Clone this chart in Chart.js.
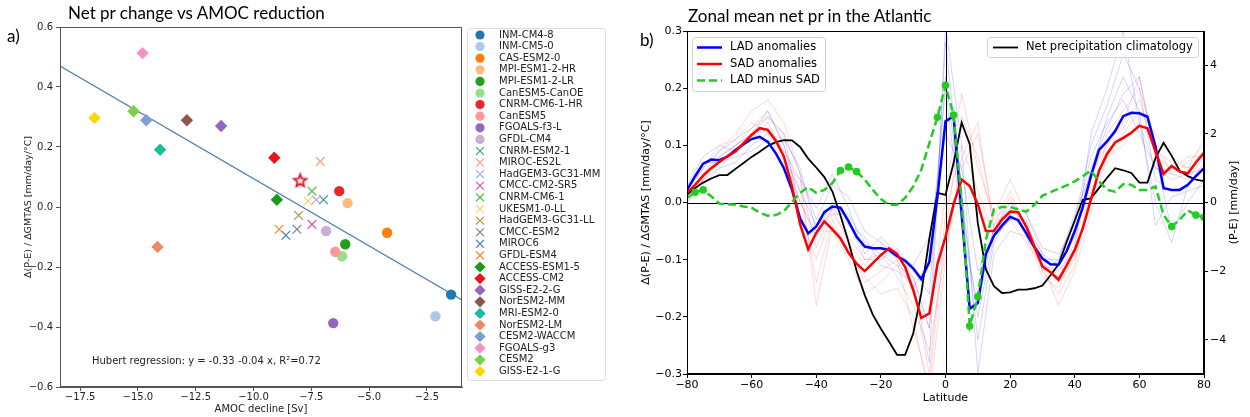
<!DOCTYPE html>
<html>
<head>
<meta charset="utf-8">
<script src="https://cdn.jsdelivr.net/npm/chart.js@4.4.1/dist/chart.umd.min.js"></script>
<style>
body { margin: 0; background: #fff; width: 1250px; height: 417px; position: relative; overflow: hidden; }
canvas { position: absolute; top: 0; }
#chartA { left: 0; }
#chartB { left: 620px; }
.lbl { position: absolute; font-family: Lato, "Open Sans", sans-serif; color: #000; white-space: nowrap; font-size: 17px; }
</style>
</head>
<body>
<canvas id="chartA" width="620" height="417"></canvas>
<canvas id="chartB" width="630" height="417"></canvas>
<div class="lbl" style="left:68px;top:2px">Net pr change vs AMOC reduction</div>
<div class="lbl" style="left:7px;top:25px">a)</div>
<div class="lbl" style="left:688px;top:5px">Zonal mean net pr in the Atlantic</div>
<div class="lbl" style="left:640px;top:29px">b)</div>
<script>
// ---------- panel a: models vs AMOC decline
const modelNames = ["INM-CM4-8", "INM-CM5-0", "CAS-ESM2-0", "MPI-ESM1-2-HR", "MPI-ESM1-2-LR",
  "CanESM5-CanOE", "CNRM-CM6-1-HR", "CanESM5", "FGOALS-f3-L", "GFDL-CM4",
  "CNRM-ESM2-1", "MIROC-ES2L", "HadGEM3-GC31-MM", "CMCC-CM2-SR5", "CNRM-CM6-1",
  "UKESM1-0-LL", "HadGEM3-GC31-LL", "CMCC-ESM2", "MIROC6", "GFDL-ESM4",
  "ACCESS-ESM1-5", "ACCESS-CM2", "GISS-E2-2-G", "NorESM2-MM", "MRI-ESM2-0",
  "NorESM2-LM", "CESM2-WACCM", "FGOALS-g3", "CESM2", "GISS-E2-1-G"];
const amocDecline = [-1.45, -2.13, -4.22, -5.93, -6.03, -6.17, -6.29, -6.46, -6.55, -6.86,
  -6.97, -7.11, -7.28, -7.47, -7.47, -7.64, -8.05, -8.12, -8.60, -8.89,
  -8.99, -9.10, -11.40, -12.88, -14.04, -14.15, -14.64, -14.80, -15.19, -16.88];
const netPrChange = [-0.292, -0.364, -0.086, 0.013, -0.124, -0.164, 0.053, -0.149, -0.387, -0.080,
  0.024, 0.152, 0.024, -0.058, 0.053, 0.020, -0.028, -0.074, -0.094, -0.074,
  0.024, 0.164, 0.270, 0.289, 0.191, -0.133, 0.289, 0.513, 0.319, 0.297];
const meanX = [-7.98];
const meanY = [0.087];
const regX = [-18.37, -0.98];
const regY = [0.47, -0.31];
const amocTicks = [-17.5, -15, -12.5, -10, -7.5, -5, -2.5];
const prTicksA = [-0.6, -0.4, -0.2, 0, 0.2, 0.4, 0.6];

// styles for panel a
const markerKind = [
  "circle", "circle", "circle", "circle", "circle", "circle", "circle", "circle", "circle", "circle",
  "crossRot", "crossRot", "crossRot", "crossRot", "crossRot", "crossRot", "crossRot", "crossRot", "crossRot", "crossRot",
  "rectRot", "rectRot", "rectRot", "rectRot", "rectRot", "rectRot", "rectRot", "rectRot", "rectRot", "rectRot"];
const modelColors = ["#1f77b4", "#aec7e8", "#ff7f0e", "#ffbb78", "#1f9e1f", "#98df8a", "#e8262b", "#ff9896", "#9467bd", "#c5b0d5",
  "#3a9a9a", "#f4a582", "#a6a6e8", "#e4579b", "#5cb85c", "#f2d45c", "#b8a060", "#7f7f7f", "#3b7dc4", "#f28e2b",
  "#1a9a1a", "#e8141e", "#9467bd", "#8c564b", "#1abc9c", "#f08860", "#7f9fd4", "#f490c6", "#7ccf4a", "#ffd700"];

// ---------- panel b: zonal means
const lat = [-80, -77.5, -75, -72.5, -70, -67.5, -65, -62.5, -60, -57.5, -55, -52.5, -50, -47.5, -45, -42.5,
  -40, -37.5, -35, -32.5, -30, -27.5, -25, -22.5, -20, -17.5, -15, -12.5, -10, -7.5, -5, -2.5,
  0, 2.5, 5, 7.5, 10, 12.5, 15, 17.5, 20, 22.5, 25, 27.5, 30, 32.5, 35, 37.5,
  40, 42.5, 45, 47.5, 50, 52.5, 55, 57.5, 60, 62.5, 65, 67.5, 70, 72.5, 75, 77.5, 80];
const ladMean = [0.022, 0.046, 0.068, 0.075, 0.074, 0.080, 0.092, 0.102, 0.111, 0.115, 0.106, 0.086, 0.060, 0.022, -0.028, -0.054,
  -0.042, -0.017, -0.007, -0.009, -0.033, -0.060, -0.077, -0.080, -0.080, -0.083, -0.094, -0.102, -0.115, -0.134, -0.104, 0.010,
  0.142, 0.151, -0.020, -0.186, -0.176, -0.090, -0.058, -0.040, -0.025, -0.031, -0.054, -0.078, -0.098, -0.108, -0.109, -0.085,
  -0.050, -0.008, 0.046, 0.092, 0.107, 0.125, 0.151, 0.157, 0.156, 0.150, 0.098, 0.025, 0.022, 0.022, 0.031, 0.046, 0.060];
const sadMean = [0.017, 0.031, 0.047, 0.060, 0.071, 0.081, 0.089, 0.104, 0.118, 0.130, 0.127, 0.108, 0.080, 0.028, -0.038, -0.082,
  -0.053, -0.033, -0.047, -0.063, -0.088, -0.107, -0.120, -0.106, -0.092, -0.080, -0.090, -0.113, -0.153, -0.202, -0.194, -0.108,
  -0.060, -0.003, 0.040, 0.029, -0.003, -0.050, -0.050, -0.030, -0.016, -0.017, -0.042, -0.077, -0.112, -0.122, -0.135, -0.110,
  -0.083, -0.045, 0.005, 0.055, 0.085, 0.105, 0.113, 0.122, 0.134, 0.130, 0.089, 0.050, 0.064, 0.054, 0.051, 0.070, 0.087];
const ladMinusSad = [0.008, 0.018, 0.022, 0.011, -0.002, -0.003, -0.004, -0.007, -0.009, -0.018, -0.023, -0.022, -0.015, 0.001, 0.017, 0.027,
  0.017, 0.022, 0.034, 0.056, 0.062, 0.054, 0.040, 0.022, 0.006, -0.004, -0.004, 0.008, 0.028, 0.057, 0.104, 0.149,
  0.205, 0.153, 0.005, -0.216, -0.165, -0.065, -0.012, -0.008, -0.008, -0.012, -0.016, -0.004, 0.012, 0.018, 0.024, 0.030,
  0.037, 0.046, 0.056, 0.037, 0.022, 0.019, 0.032, 0.031, 0.022, 0.022, 0.028, -0.022, -0.042, -0.030, -0.014, -0.022, -0.026];
const prClim = [0.23, 0.42, 0.58, 0.70, 0.80, 0.80, 0.98, 1.15, 1.33, 1.48, 1.65, 1.76, 1.82, 1.81, 1.62, 1.28,
  1.02, 0.74, 0.32, -0.38, -1.15, -2.00, -2.70, -3.27, -3.68, -4.05, -4.44, -4.44, -3.82, -2.65, -1.05, 0.28,
  0.22, 1.15, 2.33, 1.70, -0.60, -1.95, -2.44, -2.64, -2.62, -2.54, -2.54, -2.50, -2.42, -2.12, -1.80, -1.15,
  -0.52, 0.08, 0.12, 0.42, 0.72, 1.00, 0.94, 0.86, 0.58, 0.58, 1.30, 1.74, 1.36, 0.92, 0.77, 0.67, 0.62];
const sigLat = [-77.5, -75, -32.5, -30, -27.5, -2.5, 0, 2.5, 7.5, 10, 70, 77.5, 80];

// individual models (coarser grid)
const latModels = [-80, -75, -70, -65, -60, -55, -50, -45, -40, -35, -30, -25, -20, -15, -10, -5,
  0, 5, 10, 15, 20, 25, 30, 35, 40, 45, 50, 55, 60, 65, 70, 75, 80];
const ladModel1 = [0.03, 0.08, 0.10, 0.09, 0.11, 0.13, 0.08, 0.02, -0.04, -0.02, -0.02, -0.07, -0.09, -0.11, -0.13, -0.22,
  0.28, 0.02, -0.24, -0.07, -0.02, -0.05, -0.10, -0.10, -0.03, 0.10, 0.17, 0.26, 0.20, 0.04, 0.02, 0.03, 0.06];
const ladModel2 = [0.01, 0.05, 0.08, 0.10, 0.12, 0.15, 0.12, 0.05, -0.03, 0.03, 0.01, -0.05, -0.07, -0.10, -0.15, -0.10,
  0.20, -0.04, -0.18, -0.04, -0.01, -0.04, -0.09, -0.11, -0.06, 0.06, 0.13, 0.19, 0.22, 0.08, -0.05, 0.00, 0.04];
const ladModel3 = [0.02, 0.06, 0.09, 0.11, 0.13, 0.16, 0.10, 0.00, -0.06, -0.01, -0.04, -0.06, -0.11, -0.12, -0.14, -0.28,
  0.31, 0.10, -0.30, -0.09, -0.05, -0.06, -0.11, -0.12, -0.08, 0.12, 0.20, 0.30, 0.14, 0.00, -0.07, 0.03, 0.07];
const ladModel4 = [0.02, 0.07, 0.07, 0.08, 0.09, 0.11, 0.09, 0.04, -0.01, 0.05, -0.01, -0.09, -0.06, -0.09, -0.11, -0.06,
  0.12, 0.06, -0.12, -0.05, 0.00, -0.02, -0.08, -0.09, -0.04, 0.08, 0.14, 0.18, 0.12, 0.06, 0.05, 0.04, 0.08];
const ladModel5 = [0.00, 0.04, 0.06, 0.07, 0.10, 0.12, 0.11, 0.06, -0.05, 0.00, -0.03, -0.10, -0.10, -0.08, -0.12, -0.16,
  0.22, 0.00, -0.20, -0.06, -0.03, -0.03, -0.12, -0.10, -0.02, 0.05, 0.15, 0.22, 0.16, -0.04, 0.01, 0.02, 0.03];
const sadModel1 = [0.01, 0.05, 0.09, 0.12, 0.16, 0.18, 0.14, 0.05, -0.18, -0.04, -0.08, -0.14, -0.12, -0.10, -0.22, -0.32,
  -0.05, 0.15, 0.08, -0.04, 0.02, -0.05, -0.12, -0.16, -0.11, 0.04, 0.12, 0.16, 0.20, 0.10, 0.05, 0.07, 0.10];
const sadModel2 = [0.02, 0.04, 0.07, 0.10, 0.13, 0.15, 0.12, -0.02, -0.10, -0.02, -0.06, -0.10, -0.09, -0.13, -0.18, -0.26,
  -0.08, 0.06, 0.12, -0.03, 0.00, -0.04, -0.10, -0.14, -0.10, 0.02, 0.09, 0.12, 0.16, 0.12, 0.08, 0.06, 0.09];
const sadModel3 = [0.00, 0.03, 0.06, 0.09, 0.11, 0.14, 0.08, 0.00, -0.05, -0.05, -0.10, -0.16, -0.14, -0.11, -0.15, -0.30,
  -0.02, 0.10, 0.02, -0.06, -0.03, -0.07, -0.11, -0.18, -0.12, -0.02, 0.08, 0.10, 0.14, 0.06, 0.04, 0.05, 0.06];
const sadModel4 = [0.02, 0.06, 0.10, 0.11, 0.14, 0.12, 0.07, 0.04, -0.08, -0.01, -0.07, -0.11, -0.07, -0.09, -0.13, -0.22,
  0.02, 0.19, 0.06, -0.02, 0.04, -0.02, -0.09, -0.13, -0.07, 0.05, 0.10, 0.14, 0.22, 0.08, 0.06, 0.08, 0.08];
const sadModel5 = [0.01, 0.04, 0.08, 0.10, 0.12, 0.16, 0.10, 0.02, -0.14, -0.03, -0.09, -0.13, -0.16, -0.15, -0.20, -0.34,
  -0.10, 0.08, 0.14, -0.05, 0.01, -0.06, -0.13, -0.15, -0.09, 0.00, 0.11, 0.13, 0.18, 0.09, 0.07, 0.06, 0.11];
const latTicks = [-80, -60, -40, -20, 0, 20, 40, 60, 80];
const prTicksB = [-0.3, -0.2, -0.1, 0, 0.1, 0.2, 0.3];
const climTicks = [-4, -2, 0, 2, 4];

Chart.defaults.font.family = '"DejaVu Sans", sans-serif';
Chart.defaults.animation = false;
Chart.defaults.events = [];
Chart.defaults.plugins.legend.display = false;
Chart.defaults.plugins.tooltip.enabled = false;

const minus = s => String(s).replace("-", "\u2212");
const pts = (xs, ys) => xs.map((x, i) => ({ x: x, y: ys[i] }));
const fixedTicks = arr => scale => { scale.ticks = arr.map(v => ({ value: v })); };

function boxPath(ctx, x, y, w, h, r) {
  ctx.beginPath();
  ctx.moveTo(x + r, y);
  ctx.lineTo(x + w - r, y); ctx.arcTo(x + w, y, x + w, y + r, r);
  ctx.lineTo(x + w, y + h - r); ctx.arcTo(x + w, y + h, x + w - r, y + h, r);
  ctx.lineTo(x + r, y + h); ctx.arcTo(x, y + h, x, y + h - r, r);
  ctx.lineTo(x, y + r); ctx.arcTo(x, y, x + r, y, r);
  ctx.closePath();
}

function starImage(r, color) {
  const c = document.createElement("canvas");
  const s = Math.ceil(r * 2 + 4);
  c.width = c.height = s;
  const g = c.getContext("2d");
  g.translate(s / 2, s / 2);
  g.beginPath();
  for (let k = 0; k < 10; k++) {
    const rr = k % 2 ? r * 0.45 : r;
    const a = -Math.PI / 2 + k * Math.PI / 5;
    g.lineTo(rr * Math.cos(a), rr * Math.sin(a));
  }
  g.closePath();
  g.fillStyle = "#fff"; g.fill();
  g.strokeStyle = color; g.lineWidth = 1.8; g.stroke();
  return c;
}

// legend + frame + text for panel a
const panelAExtras = {
  id: "panelAExtras",
  afterDraw(chart) {
    const { ctx, chartArea: a } = chart;
    ctx.save();
    ctx.strokeStyle = "#555"; ctx.lineWidth = 1;
    ctx.strokeRect(a.left + 0.5, a.top + 0.5, a.right - a.left - 1, a.bottom - a.top - 1);

    ctx.fillStyle = "#222";
    ctx.font = '10px "DejaVu Sans"';
    ctx.textBaseline = "middle";
    ctx.fillText("Hubert regression: y = -0.33 -0.04 x, R\u00b2=0.72", a.left + 32, a.bottom - 26);

    ctx.fillStyle = "#fff"; ctx.strokeStyle = "#dcdcdc";
    boxPath(ctx, 467.5, 28.5, 138, 352, 3);
    ctx.fill(); ctx.stroke();
    modelNames.forEach((name, i) => {
      const y = 35 + i * 11.6;
      const kind = markerKind[i];
      ctx.fillStyle = modelColors[i];
      ctx.strokeStyle = modelColors[i];
      ctx.lineWidth = 1.2;
      Chart.helpers.drawPoint(ctx, {
        pointStyle: kind,
        radius: kind === "circle" ? 4.6 : kind === "rectRot" ? 5.6 : 5.5,
        borderWidth: kind === "crossRot" ? 1.2 : 0,
        rotation: 0
      }, 480, y);
      ctx.fillStyle = "#222";
      ctx.fillText(name, 499, y);
    });
    ctx.restore();
  }
};

new Chart(document.getElementById("chartA"), {
  type: "scatter",
  data: {
    datasets: [
      {
        label: "mean",
        data: pts(meanX, meanY),
        pointStyle: starImage(6.5, "#e8141e"),
        pointRadius: 7
      },
      {
        label: "models",
        data: pts(amocDecline, netPrChange),
        pointStyle: markerKind,
        pointRadius: markerKind.map(k => k === "circle" ? 5.2 : k === "rectRot" ? 6.2 : 6.2),
        pointBackgroundColor: modelColors,
        pointBorderColor: modelColors,
        pointBorderWidth: markerKind.map(k => k === "crossRot" ? 1.2 : 0)
      },
      {
        type: "line",
        label: "fit",
        data: pts(regX, regY),
        borderColor: "#4a7fb0",
        borderWidth: 1.3,
        pointRadius: 0
      }
    ]
  },
  options: {
    responsive: false,
    devicePixelRatio: 1,
    layout: { padding: { left: 0, top: 27, right: 158, bottom: 0 } },
    scales: {
      x: {
        type: "linear", min: -18.37, max: -0.98,
        afterBuildTicks: fixedTicks(amocTicks),
        afterFit: s => { s.height = 30; },
        grid: { drawOnChartArea: false, tickLength: 4, color: "#555" },
        border: { color: "#555" },
        ticks: { color: "#222", font: { size: 10 }, padding: 0, maxRotation: 0,
          callback: v => minus(v.toFixed(1)) },
        title: { display: true, text: "AMOC decline [Sv]", color: "#222", font: { size: 10 },
          padding: { top: 0, bottom: 2 } }
      },
      y: {
        type: "linear", min: -0.6, max: 0.6,
        afterBuildTicks: fixedTicks(prTicksA),
        afterFit: s => { s.width = 60; },
        grid: { drawOnChartArea: false, tickLength: 4, color: "#555" },
        border: { color: "#555" },
        ticks: { color: "#222", font: { size: 10 }, padding: 3,
          callback: v => minus(v.toFixed(1)) },
        title: { display: true, text: "\u0394(P-E) / \u0394GMTAS [mm/day/\u00b0C]", color: "#222",
          font: { size: 9.5 }, padding: { top: 23 } }
      }
    }
  },
  plugins: [panelAExtras]
});

// zero lines, frame, legends for panel b
const panelBExtras = {
  id: "panelBExtras",
  beforeDatasetsDraw(chart) {
    const { ctx, chartArea: a, scales } = chart;
    const y0 = Math.round(scales.y.getPixelForValue(0)) + 0.5;
    const x0 = Math.round(scales.x.getPixelForValue(0)) + 0.5;
    ctx.save();
    ctx.strokeStyle = "#000"; ctx.lineWidth = 1;
    ctx.beginPath();
    ctx.moveTo(a.left, y0); ctx.lineTo(a.right, y0);
    ctx.moveTo(x0, a.top); ctx.lineTo(x0, a.bottom);
    ctx.stroke();
    ctx.restore();
  },
  afterDraw(chart) {
    const { ctx, chartArea: a } = chart;
    ctx.save();
    ctx.strokeStyle = "#000"; ctx.lineWidth = 1;
    ctx.strokeRect(a.left + 0.5, a.top + 0.5, a.right - a.left - 1, a.bottom - a.top - 1);

    ctx.font = '11.5px "DejaVu Sans"';
    ctx.textBaseline = "middle";
    // left legend
    ctx.fillStyle = "rgba(255,255,255,0.8)"; ctx.strokeStyle = "#d0d0d0";
    boxPath(ctx, 72.5, 37.5, 133, 54, 3);
    ctx.fill(); ctx.stroke();
    const items = [
      { t: "LAD anomalies", c: "#0000ff", d: [] },
      { t: "SAD anomalies", c: "#ff0000", d: [] },
      { t: "LAD minus SAD", c: "#22cc22", d: [8, 4] }
    ];
    items.forEach((it, i) => {
      const y = 47.5 + i * 16.5;
      ctx.strokeStyle = it.c; ctx.lineWidth = 2.5; ctx.setLineDash(it.d);
      ctx.beginPath(); ctx.moveTo(77, y); ctx.lineTo(102, y); ctx.stroke();
      ctx.setLineDash([]);
      ctx.fillStyle = "#000";
      ctx.fillText(it.t, 110, y);
    });
    // right legend
    ctx.fillStyle = "rgba(255,255,255,0.8)"; ctx.strokeStyle = "#d0d0d0"; ctx.lineWidth = 1;
    boxPath(ctx, 367.5, 37.5, 211, 20, 3);
    ctx.fill(); ctx.stroke();
    ctx.strokeStyle = "#000"; ctx.lineWidth = 1.8;
    ctx.beginPath(); ctx.moveTo(373, 47.5); ctx.lineTo(398, 47.5); ctx.stroke();
    ctx.fillStyle = "#000";
    ctx.fillText("Net precipitation climatology", 406, 47.5);

    // right axis title, reading bottom to top
    ctx.translate(614, (a.top + a.bottom) / 2);
    ctx.rotate(-Math.PI / 2);
    ctx.textAlign = "center";
    ctx.font = '11px "DejaVu Sans"';
    ctx.fillText("(P-E) [mm/day]", 0, 0);
    ctx.restore();
  }
};

const faint = (xs, ys, color) => ({
  data: pts(xs, ys), borderColor: color, borderWidth: 0.8, pointRadius: 0, yAxisID: "y"
});

new Chart(document.getElementById("chartB"), {
  type: "line",
  data: {
    datasets: [
      {
        label: "LAD minus SAD",
        data: pts(lat, ladMinusSad),
        borderColor: "#22cc22", borderWidth: 2.5, borderDash: [8, 4],
        pointRadius: ctx => sigLat.includes(lat[ctx.dataIndex]) ? 3.8 : 0,
        pointBackgroundColor: "#22cc22", pointBorderWidth: 0,
        yAxisID: "y"
      },
      {
        label: "SAD anomalies",
        data: pts(lat, sadMean),
        borderColor: "#ff0000", borderWidth: 2.5, pointRadius: 0, yAxisID: "y"
      },
      {
        label: "LAD anomalies",
        data: pts(lat, ladMean),
        borderColor: "#0000ff", borderWidth: 2.5, pointRadius: 0, yAxisID: "y"
      },
      {
        label: "Net precipitation climatology",
        data: pts(lat, prClim),
        borderColor: "#000", borderWidth: 1.8, pointRadius: 0, yAxisID: "y1"
      },
      faint(latModels, ladModel1, "rgba(0,0,255,0.22)"),
      faint(latModels, ladModel2, "rgba(0,0,255,0.22)"),
      faint(latModels, ladModel3, "rgba(0,0,255,0.22)"),
      faint(latModels, ladModel4, "rgba(0,0,255,0.22)"),
      faint(latModels, ladModel5, "rgba(0,0,255,0.22)"),
      faint(latModels, sadModel1, "rgba(255,0,0,0.2)"),
      faint(latModels, sadModel2, "rgba(255,0,0,0.2)"),
      faint(latModels, sadModel3, "rgba(255,0,0,0.2)"),
      faint(latModels, sadModel4, "rgba(255,0,0,0.2)"),
      faint(latModels, sadModel5, "rgba(255,0,0,0.2)")
    ]
  },
  options: {
    responsive: false,
    devicePixelRatio: 1,
    layout: { padding: { left: 0, top: 31, right: 0, bottom: 0 } },
    scales: {
      x: {
        type: "linear", min: -80, max: 80,
        afterBuildTicks: fixedTicks(latTicks),
        afterFit: s => { s.height = 43; },
        grid: { drawOnChartArea: false, tickLength: 4, color: "#000" },
        border: { color: "#000" },
        ticks: { color: "#000", font: { size: 11 }, padding: 1, maxRotation: 0,
          callback: v => minus(v) },
        title: { display: true, text: "Latitude", color: "#000", font: { size: 11 },
          padding: { top: 0, bottom: 12 } }
      },
      y: {
        type: "linear", position: "left", min: -0.3, max: 0.3,
        afterBuildTicks: fixedTicks(prTicksB),
        afterFit: s => { s.width = 67; },
        grid: { drawOnChartArea: false, tickLength: 4, color: "#000" },
        border: { color: "#000" },
        ticks: { color: "#000", font: { size: 11 }, padding: 1,
          callback: v => minus(v.toFixed(1)) },
        title: { display: true, text: "\u0394(P-E) / \u0394GMTAS [mm/day/\u00b0C]", color: "#000",
          font: { size: 11 }, padding: { top: 20 } }
      },
      y1: {
        type: "linear", position: "right", min: -5, max: 5,
        afterBuildTicks: fixedTicks(climTicks),
        afterFit: s => { s.width = 46; },
        grid: { drawOnChartArea: false, tickLength: 4, color: "#000" },
        border: { color: "#000" },
        ticks: { color: "#000", font: { size: 11 }, padding: 2,
          callback: v => minus(v) }
      }
    }
  },
  plugins: [panelBExtras]
});
</script>
</body>
</html>
